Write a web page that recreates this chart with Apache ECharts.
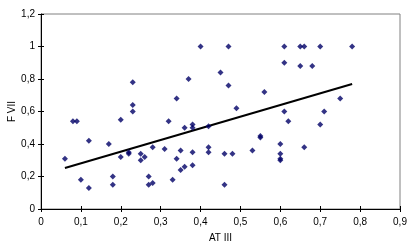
<!DOCTYPE html>
<html><head><meta charset="utf-8">
<script src="https://cdn.jsdelivr.net/npm/echarts@6/dist/echarts.min.js"></script>
<style>html,body{margin:0;padding:0;background:#fff}#c{width:414px;height:251px}</style>
</head><body><div id="c"></div>
<script>
const atIII = [0.06,0.08,0.09,0.10,0.12,0.12,0.17,0.18,0.18,0.20,0.20,0.22,0.22,0.23,0.23,0.23,0.25,0.25,0.26,0.27,0.27,0.28,0.28,0.31,0.32,0.33,0.34,0.34,0.35,0.35,0.36,0.36,0.37,0.38,0.38,0.38,0.38,0.40,0.42,0.42,0.42,0.45,0.46,0.46,0.47,0.47,0.48,0.49,0.53,0.55,0.55,0.56,0.60,0.60,0.60,0.60,0.61,0.61,0.61,0.62,0.65,0.65,0.66,0.66,0.68,0.70,0.70,0.71,0.75,0.78];
const fVII = [0.31,0.54,0.54,0.18,0.42,0.13,0.40,0.20,0.15,0.55,0.32,0.35,0.34,0.78,0.64,0.60,0.34,0.30,0.32,0.20,0.15,0.38,0.16,0.37,0.54,0.18,0.68,0.31,0.36,0.24,0.50,0.26,0.80,0.52,0.50,0.35,0.27,1.00,0.51,0.38,0.35,0.84,0.34,0.15,1.00,0.76,0.34,0.62,0.36,0.44,0.45,0.72,0.40,0.34,0.31,0.30,1.00,0.90,0.60,0.54,1.00,0.88,1.00,0.38,0.88,1.00,0.52,0.60,0.68,1.00];
const trendX = [0.06, 0.78];
const trendY = [0.252, 0.769];
const xTicks = {min:0, max:0.9, interval:0.1};
const yTicks = {min:0, max:1.2, interval:0.2};

const fmt = v => String(Math.round(v*10)/10).replace('.', ',');
const chart = echarts.init(document.getElementById('c'), null, {renderer:'canvas'});
const font = 'Liberation Sans, Arial, sans-serif';
const innerTicks = (t, pos) => ({type:'value', position:pos, min:t.min, max:t.max, interval:t.interval,
  axisLine:{show:false}, axisLabel:{show:false}, splitLine:{show:false},
  axisTick:{show:true, inside:true, length:3, lineStyle:{color:'#000'}}});
chart.setOption({
  backgroundColor:'#fff',
  animation:false,
  grid:{left:41, right:14, top:14, bottom:42, show:true, borderColor:'#808080', borderWidth:1, backgroundColor:'#fff', containLabel:false, outerBoundsMode:'none'},
  xAxis:[{type:'value', position:'bottom', min:xTicks.min, max:xTicks.max, interval:xTicks.interval,
    name:'AT III', nameLocation:'middle', nameGap:24, nameMoveOverlap:false,
    nameTextStyle:{color:'#000', fontFamily:font, fontSize:10},
    axisLine:{show:true, onZero:false, lineStyle:{color:'#000', width:1}},
    axisTick:{show:true, length:3, lineStyle:{color:'#000'}},
    axisLabel:{color:'#000', fontFamily:font, fontSize:10, margin:8, formatter:fmt},
    splitLine:{show:false}}, innerTicks(xTicks,'bottom')],
  yAxis:[{type:'value', position:'left', min:yTicks.min, max:yTicks.max, interval:yTicks.interval,
    name:'F VII', nameLocation:'middle', nameGap:24, nameRotate:90, nameMoveOverlap:false,
    nameTextStyle:{color:'#000', fontFamily:font, fontSize:10},
    axisLine:{show:true, onZero:false, lineStyle:{color:'#000', width:1}},
    axisTick:{show:true, length:3, lineStyle:{color:'#000'}},
    axisLabel:{color:'#000', fontFamily:font, fontSize:10, margin:6, formatter:fmt},
    splitLine:{show:false}}, innerTicks(yTicks,'left')],
  series:[
    {type:'scatter', data:atIII.map((x,i)=>[x,fVII[i]]), symbol:'diamond', symbolSize:6,
      itemStyle:{color:'#000066'}, z:3},
    {type:'line', data:trendX.map((x,i)=>[x,trendY[i]]), symbol:'none',
      lineStyle:{color:'#000', width:2}, z:2}
  ]
});
</script></body></html>
